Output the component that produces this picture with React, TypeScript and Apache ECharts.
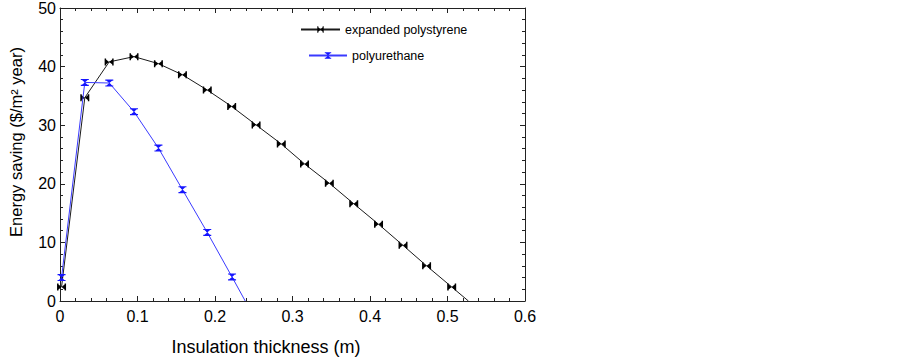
import React, { useEffect, useRef } from "react";
import * as echarts from "echarts";

const epsX = [0.002, 0.032, 0.0634, 0.0955, 0.127, 0.158, 0.19, 0.2215, 0.253, 0.2855, 0.3155, 0.3475, 0.379, 0.411, 0.4426, 0.473, 0.5054, 0.527];
const epsY = [2.4, 34.7, 40.8, 41.7, 40.5, 38.6, 36.0, 33.2, 30.05, 26.8, 23.4, 20.1, 16.6, 13.1, 9.5, 6.0, 2.4, 0];
const puX = [0.002, 0.032, 0.0636, 0.0955, 0.127, 0.158, 0.19, 0.222, 0.239];
const puY = [4.0, 37.3, 37.2, 32.3, 26.1, 19.0, 11.7, 4.1, 0];

const seriesNames = ["expanded polystyrene", "polyurethane"];
const xTitle = "Insulation thickness (m)";
const yTitle = "Energy saving ($/m² year)";

const FONT = "Liberation Sans, Arial, sans-serif";
const BLACK_SYM = "path://M0,0H1.6V10H0Z M8.4,0H10V10H8.4Z M1.6,1.5L5,5L1.6,8.5Z M8.4,1.5L5,5L8.4,8.5Z";
const BLUE_SYM = "path://M0,0H10V1.6H0Z M0,8.4H10V10H0Z M1.5,1.6L5,5L8.5,1.6Z M1.5,8.4L5,5L8.5,8.4Z";

function build(xs: number[], ys: number[], lastNoSymbol: boolean) {
  return xs.map((x, i) => {
    const item: any = { value: [x, ys[i]] };
    if (lastNoSymbol && i === xs.length - 1) item.symbol = "none";
    return item;
  });
}

export default function App() {
  const ref = useRef<HTMLDivElement>(null);
  useEffect(() => {
    if (!ref.current) return;
    const chart = echarts.init(ref.current, null, { renderer: "svg" });
    const axisCommon = {
      type: "value" as const,
      axisLine: { show: true, onZero: false, lineStyle: { color: "#222", width: 1 } },
      axisTick: { show: true, inside: true, length: 5, lineStyle: { color: "#222" } },
      minorTick: { show: true, splitNumber: 5, length: 3, lineStyle: { color: "#222" } },
      splitLine: { show: false },
    };
    chart.setOption({
      animation: false,
      backgroundColor: "#fff",
      grid: { left: 60, right: 378, top: 7, bottom: 56, containLabel: false },
      xAxis: [
        {
          ...axisCommon,
          min: 0,
          max: 0.6,
          interval: 0.1,
          position: "bottom",
          axisLabel: { show: true, color: "#000", fontSize: 16, fontFamily: FONT, margin: 7 },
        },
        {
          ...axisCommon,
          min: 0,
          max: 0.6,
          interval: 0.1,
          position: "top",
          axisLabel: { show: false },
        },
      ],
      yAxis: [
        {
          ...axisCommon,
          min: 0,
          max: 50,
          interval: 10,
          position: "left",
          axisLabel: { show: true, color: "#000", fontSize: 16, fontFamily: FONT, margin: 4 },
        },
        {
          ...axisCommon,
          min: 0,
          max: 50,
          interval: 10,
          position: "right",
          axisLabel: { show: false },
        },
      ],
      legend: [
        {
          data: [seriesNames[0]],
          left: 300,
          top: 23,
          padding: 0,
          itemWidth: 39,
          itemHeight: 8,
          textStyle: { fontSize: 12.5, fontFamily: FONT, color: "#000" },
        },
        {
          data: [seriesNames[1]],
          left: 308,
          top: 49,
          padding: 0,
          itemWidth: 38,
          itemHeight: 8,
          textStyle: { fontSize: 12.5, fontFamily: FONT, color: "#000" },
        },
      ],
      series: [
        {
          name: seriesNames[0],
          type: "line",
          data: build(epsX, epsY, true),
          symbol: BLACK_SYM,
          symbolSize: [9, 7],
          showAllSymbol: true,
          lineStyle: { color: "#1a1a1a", width: 1 },
          itemStyle: { color: "#000" },
          z: 2,
        },
        {
          name: seriesNames[1],
          type: "line",
          data: build(puX, puY, true),
          symbol: BLUE_SYM,
          symbolSize: [8, 7],
          showAllSymbol: true,
          lineStyle: { color: "#3a3aff", width: 1 },
          itemStyle: { color: "#1515ff" },
          z: 3,
        },
      ],
      graphic: [
        {
          type: "text",
          x: 16,
          y: 142,
          rotation: Math.PI / 2,
          style: {
            text: yTitle,
            fontSize: 16.5,
            fontFamily: FONT,
            fill: "#000",
            align: "center",
            verticalAlign: "middle",
          },
        },
        {
          type: "text",
          x: 266,
          y: 347,
          style: {
            text: xTitle,
            fontSize: 18,
            fontFamily: FONT,
            fill: "#000",
            align: "center",
            verticalAlign: "middle",
          },
        },
      ],
    });
    return () => chart.dispose();
  }, []);
  return (
    <div
      ref={ref}
      style={{ position: "fixed", left: 0, top: 0, width: 903, height: 357, background: "#fff" }}
    />
  );
}
